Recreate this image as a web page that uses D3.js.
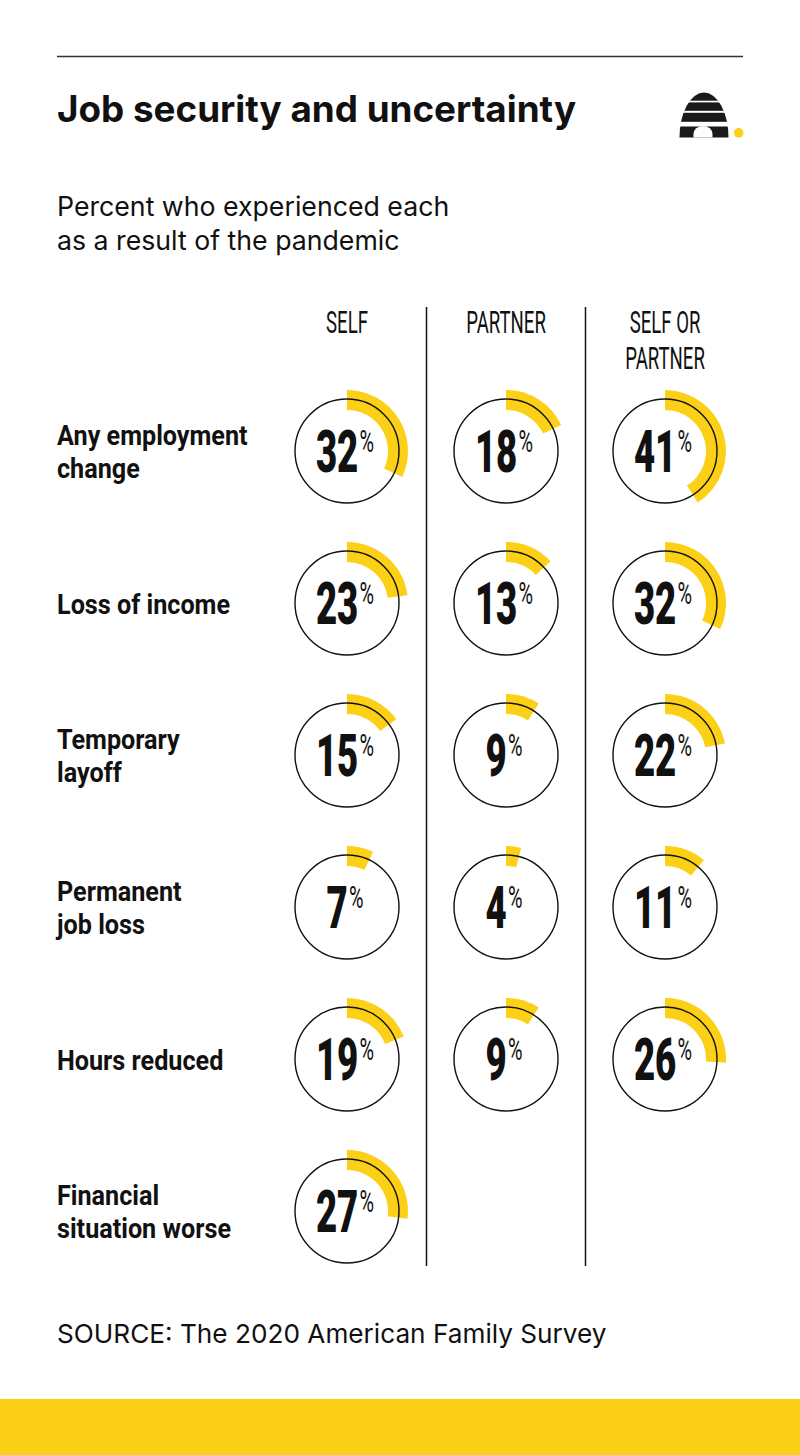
<!DOCTYPE html>
<html>
<head>
<meta charset="utf-8">
<script src="https://cdn.jsdelivr.net/npm/d3@7"></script>
<style>
  body { margin: 0; background: #fff; }
  svg { display: block; }
</style>
</head>
<body>
<svg id="chart"></svg>
<script>
// data
const rows = ["Any employment change", "Loss of income", "Temporary layoff", "Permanent job loss", "Hours reduced", "Financial situation worse"]
const rowLines = [["Any employment", "change"], ["Loss of income"], ["Temporary", "layoff"], ["Permanent", "job loss"], ["Hours reduced"], ["Financial", "situation worse"]]
const groups = ["SELF", "PARTNER", "SELF OR PARTNER"]
const groupLines = [["SELF"], ["PARTNER"], ["SELF OR", "PARTNER"]]
const selfValues = [32, 23, 15, 7, 19, 27]
const partnerValues = [18, 13, 9, 4, 9, null]
const eitherValues = [41, 32, 22, 11, 26, null]

const width = 800
const height = 1455
const yellow = "#fcd017"

let svg = d3.select("#chart")
  .attr("width", width)
  .attr("height", height)
  .attr("viewBox", [0, 0, width, height])

let x = d3.scalePoint().domain(groups).range([347, 665])
let y = d3.scalePoint().domain(rows).range([451, 1211])
let angle = d3.scaleLinear().domain([0, 100]).range([0, 2 * Math.PI])
let arc = d3.arc()
  .innerRadius(41)
  .outerRadius(61)
  .startAngle(0)
  .endAngle(d => angle(d.value))

// header
svg.append("line")
  .attr("x1", 57).attr("x2", 743)
  .attr("y1", 56.5).attr("y2", 56.5)
  .attr("stroke", "#333").attr("stroke-width", 1.5)

svg.append("text")
  .attr("x", 57).attr("y", 122)
  .style("font-family", "Inter, sans-serif")
  .style("font-weight", 700)
  .style("font-size", "36.8px")
  .attr("fill", "#111")
  .text("Job security and uncertainty")

svg.append("text")
  .attr("x", 57).attr("y", 216)
  .style("font-family", "Inter, sans-serif")
  .style("font-size", "26.7px")
  .attr("fill", "#111")
  .selectAll("tspan")
  .data(["Percent who experienced each", "as a result of the pandemic"])
  .enter().append("tspan")
  .attr("x", 57)
  .attr("dy", (d, i) => i ? 34 : 0)
  .text(d => d)

// beehive logo
let logo = svg.append("g")
logo.append("clipPath").attr("id", "hive")
  .append("ellipse")
  .attr("cx", 704).attr("cy", 137.5).attr("rx", 24.5).attr("ry", 45)
let hive = logo.append("g").attr("clip-path", "url(#hive)")
let bands = [[92, 100.7], [102.4, 110.8], [112.8, 121.8], [126.5, 137.5]]
hive.selectAll("rect")
  .data(bands)
  .enter().append("rect")
  .attr("x", 678).attr("width", 54)
  .attr("y", d => d[0])
  .attr("height", d => d[1] - d[0])
  .attr("fill", "#1a1a1a")
logo.append("path")
  .attr("d", "M693.5,137.5 L693.5,134 A9.5,8 0 0 1 712.5,134 L712.5,137.5 Z")
  .attr("fill", "#fff")
logo.append("circle")
  .attr("cx", 738.7).attr("cy", 132.8).attr("r", 4.8)
  .attr("fill", yellow)

// column headings
let heads = svg.selectAll(".head")
  .data(groups)
  .enter().append("g")
  .attr("class", "head")
  .attr("transform", d => `translate(${x(d)},0) scale(0.6,1)`)
heads.append("text")
  .attr("text-anchor", "middle")
  .style("font-family", "Roboto, sans-serif")
  .style("font-weight", 400)
  .style("font-size", "31px")
  .attr("fill", "#111")
  .selectAll("tspan")
  .data((d, i) => groupLines[i])
  .enter().append("tspan")
  .attr("x", 0)
  .attr("y", (d, i) => 333 + i * 36)
  .text(d => d)

// dividers between columns
let dividers = [0, 1].map(i => (x(groups[i]) + x(groups[i + 1])) / 2)
svg.selectAll(".divider")
  .data(dividers)
  .enter().append("line")
  .attr("class", "divider")
  .attr("x1", d => d).attr("x2", d => d)
  .attr("y1", 307).attr("y2", 1266)
  .attr("stroke", "#111").attr("stroke-width", 1.5)

// row labels
let labels = svg.selectAll(".label")
  .data(rows)
  .enter().append("g")
  .attr("class", "label")
  .attr("transform", d => `translate(57,${y(d)}) scale(0.9,1)`)
labels.append("text")
  .style("font-family", "Roboto, sans-serif")
  .style("font-weight", 700)
  .style("font-size", "28px")
  .attr("fill", "#111")
  .selectAll("tspan")
  .data((d, i) => rowLines[i])
  .enter().append("tspan")
  .attr("x", 0)
  .attr("y", (d, i, n) => n.length > 1 ? -6 + i * 33 : 11)
  .text(d => d)

// cells
let series = [selfValues, partnerValues, eitherValues]
let cells = []
series.forEach((vals, gi) => {
  vals.forEach((v, ri) => {
    if (v != null) cells.push({ group: groups[gi], row: rows[ri], value: v })
  })
})

let cell = svg.selectAll(".cell")
  .data(cells)
  .enter().append("g")
  .attr("class", "cell")
  .attr("transform", d => `translate(${x(d.group)},${y(d.row)})`)

cell.append("path")
  .attr("d", arc)
  .attr("fill", yellow)

cell.append("circle")
  .attr("r", 52)
  .attr("fill", "none")
  .attr("stroke", "#111")
  .attr("stroke-width", 1.4)

let num = cell.append("g")
  .attr("transform", "translate(-2,0) scale(0.62,1)")
  .append("text")
  .attr("text-anchor", "middle")
  .attr("y", 21)
  .attr("fill", "#111")
  .style("font-family", "Roboto, sans-serif")
num.append("tspan")
  .style("font-weight", 900)
  .style("font-size", "59px")
  .text(d => d.value)
num.append("tspan")
  .attr("dx", 2)
  .attr("dy", -20)
  .style("font-weight", 400)
  .style("font-size", "32px")
  .text("%")

// source + bottom band
svg.append("text")
  .attr("x", 57).attr("y", 1343)
  .style("font-family", "Inter, sans-serif")
  .style("font-size", "26.2px")
  .attr("fill", "#111")
  .text("SOURCE: The 2020 American Family Survey")

svg.append("rect")
  .attr("x", 0).attr("y", 1399)
  .attr("width", width).attr("height", height - 1399)
  .attr("fill", yellow)
</script>
</body>
</html>
